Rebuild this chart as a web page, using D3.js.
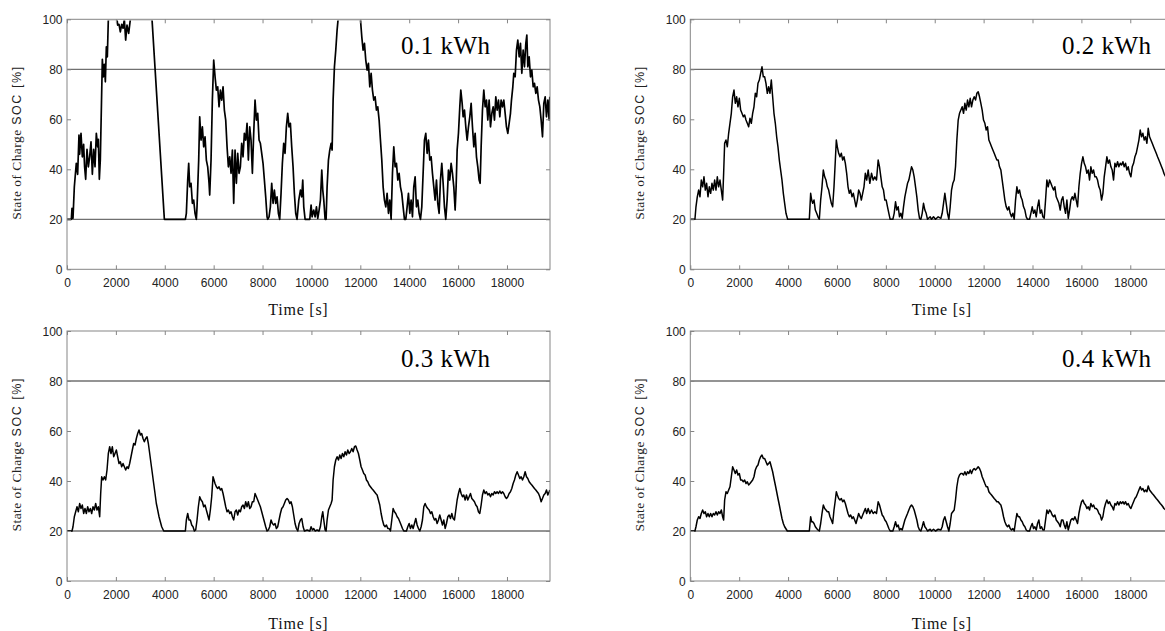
<!DOCTYPE html>
<html><head><meta charset="utf-8">
<script src="https://cdn.jsdelivr.net/npm/d3@7"></script>
<style>body{margin:0;background:#fff;} svg{display:block;}</style>
</head><body>
<svg id="chart" width="1165" height="631"></svg>
<script>
// ---------- data ----------
const timeTicks = [0,2000,4000,6000,8000,10000,12000,14000,16000,18000];
const socTicks = [0,20,40,60,80,100];
const socLimits = [20,80];
const capacityLabels = ["0.1 kWh","0.2 kWh","0.3 kWh","0.4 kWh"];
const xLabel = "Time [s]";
const yLabelSerif = "State of Charge";
const yLabelSans = "SOC [%]";

// [time s, SOC %]
const soc01 = [[0,20],[177,20],[205,24.4],[245,20.4],[300,33],[380,42.4],[436,38],[490,53.7],[518,46],[573,54.4],[627,45],[680,50],[720,41],[764,36],[818,48],[873,41],[927,45],[982,51],[1037,38],[1091,48],[1146,41],[1200,54.4],[1255,49],[1282,52],[1323,36],[1364,44],[1405,64],[1446,84],[1487,77],[1528,82],[1569,75],[1610,89],[1650,85],[1691,100],[2046,100],[2073,97.7],[2128,98],[2182,95],[2237,98],[2292,96.4],[2346,100],[2400,91.7],[2455,97.7],[2523,94.4],[2592,100],[3478,100],[3983,20],[4842,20],[4883,22.4],[4938,35.7],[4979,42.4],[5020,33],[5074,34.4],[5129,26.4],[5183,27.7],[5238,22.4],[5292,20],[5320,25],[5388,43.7],[5429,61],[5483,51.7],[5538,57],[5592,49],[5647,53],[5701,43.7],[5756,41],[5811,34.4],[5838,29.7],[5893,43.7],[5947,67.7],[6002,83.7],[6057,77],[6111,71.7],[6166,73],[6220,65],[6275,71.7],[6329,67.7],[6384,73],[6438,63.7],[6493,59.7],[6548,49],[6602,41],[6657,45],[6711,38.4],[6766,47.7],[6820,26.4],[6875,47.7],[6929,34.4],[6984,46.4],[7038,38.4],[7093,41],[7147,50.4],[7202,45],[7256,54.4],[7311,51.7],[7366,58.4],[7420,43.7],[7475,57],[7529,51.7],[7584,38.4],[7638,54.4],[7693,67.7],[7748,59.7],[7802,62.4],[7857,51.7],[7911,50.4],[7966,46.4],[8020,42.4],[8075,35.7],[8129,29],[8184,21],[8211,20],[8266,21],[8320,25],[8375,34.4],[8430,26.4],[8484,31.7],[8539,26.4],[8593,29],[8648,22.4],[8702,20],[8757,30.4],[8811,42.4],[8866,50.4],[8920,46.4],[8975,57],[9030,62.4],[9084,57],[9139,58.4],[9193,49],[9248,41],[9302,30.4],[9357,22.4],[9411,20],[9482,27.7],[9550,31.7],[9604,29],[9645,35.7],[9686,25],[9741,20],[9932,20],[9986,25.7],[10027,21],[10095,23.7],[10150,21],[10205,25],[10259,20.4],[10314,23.7],[10368,27.7],[10423,39.7],[10464,31.7],[10505,27.7],[10559,20],[10600,20],[10641,33],[10696,43.7],[10750,47.7],[10805,50.4],[10846,47.7],[10887,67.7],[10941,81],[10996,87.7],[11050,95.7],[11091,100],[12005,100],[12060,93],[12114,87.7],[12169,90.4],[12223,83.7],[12278,79.7],[12332,82.4],[12387,73],[12442,78.4],[12496,71.7],[12551,67.7],[12605,69],[12660,63.7],[12714,65],[12769,59.7],[12823,51.7],[12878,43.7],[12933,33],[12987,27.7],[13042,25],[13096,30.4],[13151,22.4],[13205,27.7],[13260,20],[13315,38.4],[13369,49],[13424,41],[13478,42.4],[13533,35.7],[13587,38.4],[13642,33],[13696,30.4],[13751,25],[13806,20],[13860,20],[13915,25],[13969,30.4],[14024,22.4],[14078,27.7],[14133,21],[14187,33],[14242,37],[14296,25],[14351,27.7],[14405,22.4],[14460,20],[14515,25],[14569,38.4],[14624,51.7],[14678,54.4],[14733,46.4],[14788,51.7],[14842,43.7],[14897,45],[14951,38.4],[15006,33],[15060,27.7],[15115,35.7],[15169,26.4],[15224,22.4],[15278,35.7],[15333,42.4],[15388,34.4],[15442,25],[15497,20],[15551,27.7],[15606,39.7],[15660,35.7],[15715,42.4],[15770,38.4],[15824,33],[15879,23.7],[15920,33],[15961,47.7],[16015,54.4],[16070,65],[16111,71.7],[16166,66.4],[16206,61],[16261,63.7],[16315,57],[16370,51.7],[16424,57],[16479,61],[16534,66.4],[16588,57],[16643,49],[16697,54.4],[16752,45],[16806,41],[16861,35.7],[16902,34.4],[16943,49],[16997,63.7],[17052,71.7],[17107,65],[17161,67.7],[17216,59.7],[17270,67.7],[17325,57],[17380,62.4],[17434,65],[17489,59.7],[17543,69],[17598,63.7],[17652,67.7],[17707,61],[17761,67.7],[17816,65],[17870,67.7],[17925,62.4],[17979,57],[18034,54.4],[18088,58.4],[18143,62.4],[18184,67.7],[18239,73],[18279,78.4],[18334,77],[18389,87.7],[18443,91.7],[18498,85],[18552,90.4],[18607,78.4],[18662,87.7],[18716,81],[18771,90.4],[18812,93.7],[18852,81],[18907,85],[18962,77],[19016,79.7],[19071,73],[19125,74.4],[19180,70.4],[19234,73],[19289,67.7],[19344,65],[19398,59.7],[19453,53],[19507,66.4],[19562,69],[19616,61],[19671,67.7],[19725,59.7],[19752,69]];

const soc02 = [[0,20],[190,20],[232,25],[286,29],[341,31.7],[396,29],[450,35.7],[505,33],[559,37],[614,31.7],[668,34.4],[723,29],[777,33],[832,30.4],[887,34.4],[941,31.7],[996,35.7],[1050,31.7],[1105,37],[1159,33],[1214,35.7],[1269,31.7],[1323,27.7],[1364,38.4],[1405,50.4],[1460,51.7],[1514,49],[1569,54.4],[1623,58.4],[1678,62.4],[1732,69],[1787,71.7],[1841,66.4],[1896,69],[1950,65],[2005,68.4],[2060,63.7],[2114,62.4],[2169,61],[2223,61.7],[2278,59.7],[2332,58.4],[2387,57],[2441,60.4],[2496,58.4],[2551,62.4],[2605,65],[2660,70.4],[2714,69],[2769,74.4],[2824,75.7],[2878,78.4],[2933,81],[2987,77],[3042,77],[3096,74.4],[3151,70.4],[3205,73],[3260,70.4],[3314,75.7],[3369,69],[3423,62.4],[3478,58.4],[3533,53],[3587,49],[3642,43.7],[3696,39.7],[3751,35.7],[3806,30.4],[3860,26.4],[3915,22.4],[3983,20],[4869,20],[4924,30.4],[4965,27.7],[5006,26.4],[5061,27.7],[5115,23.7],[5170,22.4],[5224,21],[5279,20],[5333,27.7],[5388,33],[5442,39.7],[5497,37],[5551,35.7],[5606,33],[5661,31.7],[5715,29],[5770,26.4],[5824,25],[5879,33],[5934,43.7],[5974,51.7],[6015,49],[6070,46.4],[6124,45],[6179,46.4],[6234,43.7],[6288,45],[6343,42.4],[6397,38.4],[6452,33],[6506,30.4],[6561,31.7],[6616,29],[6670,30.4],[6725,27.7],[6779,25],[6834,27.7],[6888,31.7],[6943,30.4],[6997,27.7],[7052,30.4],[7106,33],[7161,38.4],[7216,35.7],[7277,39.7],[7345,34.4],[7413,38.4],[7482,35.7],[7550,37],[7618,35.7],[7686,43.7],[7741,41],[7795,37],[7850,33],[7904,31.7],[7959,27.7],[8014,27.7],[8068,25],[8123,22.4],[8177,20],[8286,20],[8341,22.4],[8396,27],[8450,23.7],[8505,25],[8559,21],[8614,22.4],[8668,20.4],[8723,25],[8778,29],[8832,31.7],[8887,34.4],[8941,35.7],[8996,38.4],[9050,41],[9105,39.7],[9159,37],[9214,33],[9268,29],[9323,23.7],[9378,20.4],[9432,20],[9487,22.4],[9541,26.4],[9596,23.7],[9650,22.4],[9705,20],[9814,21],[9869,20],[9950,21],[10032,20],[10141,21],[10251,20.4],[10305,22.4],[10360,26.4],[10414,30.4],[10469,26.4],[10523,22.4],[10578,20],[10632,25],[10687,31.7],[10741,34.4],[10796,35.7],[10850,41],[10905,51.7],[10960,59.7],[11014,62.4],[11069,63.7],[11124,65],[11178,62.4],[11233,66.4],[11287,63.7],[11342,67.7],[11396,65],[11451,68.4],[11505,65],[11560,67.7],[11614,69],[11669,67.7],[11723,70.4],[11778,71],[11832,69],[11887,66.4],[11941,63.7],[11996,59.7],[12051,58.4],[12106,55.7],[12160,57],[12215,51.7],[12269,50.4],[12324,49],[12378,47.7],[12433,46.4],[12488,45],[12542,43.7],[12597,43.7],[12651,41],[12706,39.7],[12760,35.7],[12815,31.7],[12869,27.7],[12924,25],[12979,23.7],[13033,25],[13088,22.4],[13142,21],[13197,22.4],[13252,20],[13306,27.7],[13361,33],[13415,30.4],[13470,31.7],[13524,29],[13579,27.7],[13633,25],[13688,23.7],[13743,21],[13797,20],[13879,20],[13933,22.4],[13988,25],[14042,22.4],[14097,23.7],[14152,21],[14206,25],[14261,27.7],[14315,22.4],[14370,23.7],[14424,21],[14479,20.4],[14534,27.7],[14588,35.7],[14643,33],[14697,35.7],[14752,34.4],[14806,33],[14861,31.7],[14915,33],[14970,29],[15025,27.7],[15079,26.4],[15134,23.7],[15188,27.7],[15243,29],[15298,25],[15352,22.4],[15407,27.7],[15461,20.4],[15516,23.7],[15570,27.7],[15625,29],[15679,27.7],[15734,30.4],[15788,27.7],[15843,25],[15898,33],[15952,38.4],[16007,42.4],[16061,45],[16116,42.4],[16170,41],[16225,38.4],[16279,39.7],[16334,35.7],[16388,41],[16443,38.4],[16498,39.7],[16552,37],[16607,37],[16661,35.7],[16716,33],[16770,31.7],[16825,27.7],[16879,30.4],[16934,37],[16989,41],[17043,45],[17098,42.4],[17152,43.7],[17207,41],[17261,39.7],[17316,35.7],[17371,42.4],[17425,41],[17480,43],[17534,41],[17589,42.4],[17643,41.7],[17698,43],[17752,41],[17807,42.4],[17862,39.7],[17916,41],[17971,38.4],[18025,37],[18080,41],[18135,42.4],[18189,45],[18244,46.4],[18298,49],[18353,51.7],[18407,55.7],[18462,53],[18516,54.4],[18571,51.7],[18625,53],[18680,50.4],[18734,56.4],[18789,53],[18843,51.7],[18898,50.4],[18953,49],[19007,47.7],[19062,46.4],[19116,45],[19171,43.7],[19225,42.4],[19280,41],[19334,39.7],[19376,38.4],[19450,37]];

const soc03 = [[0,20],[205,20],[245,21.7],[300,25.7],[355,27.7],[409,29.7],[464,27.7],[518,31],[573,29],[627,30.4],[682,27],[736,29],[791,27],[846,29.7],[900,27.7],[955,29],[1009,27],[1064,29.7],[1118,28.4],[1173,31],[1228,28.4],[1282,29.7],[1337,25.7],[1378,35],[1419,41.7],[1473,40.4],[1528,41.7],[1582,40.4],[1637,44.4],[1691,51],[1746,53.7],[1800,51],[1855,53.7],[1910,49.7],[1964,51],[2019,52.4],[2073,49.7],[2128,47],[2182,47.7],[2237,45.7],[2292,47],[2346,45.7],[2401,44.4],[2455,45.7],[2510,45],[2564,47],[2619,49.7],[2673,52.4],[2728,55],[2783,54.4],[2837,57],[2892,59],[2946,60.4],[3001,58.4],[3055,59],[3110,57],[3164,55.7],[3219,57],[3274,57.7],[3328,55],[3383,51],[3437,47],[3492,43],[3546,39],[3601,35],[3655,31],[3710,28.4],[3765,25.7],[3819,23.7],[3874,21.7],[3956,20],[4842,20],[4883,24.4],[4938,27],[4992,24.4],[5047,24.4],[5102,22.4],[5156,21.7],[5211,20],[5265,20.4],[5320,24.4],[5374,29.7],[5429,33.7],[5483,32.4],[5538,31.7],[5592,29.7],[5647,30.4],[5701,28.4],[5756,26.4],[5811,24.4],[5865,28.4],[5920,33.7],[5974,41.7],[6015,40.4],[6056,39],[6111,37.7],[6165,37],[6220,37.7],[6274,36.4],[6329,37],[6384,35],[6438,32.4],[6493,29.7],[6548,27.7],[6602,28.4],[6657,27],[6711,27.7],[6766,25.7],[6820,24.4],[6875,27.7],[6929,28.4],[6984,26.4],[7038,28.4],[7093,27.7],[7147,29.7],[7202,30.4],[7256,29],[7311,31.7],[7366,29.7],[7420,31.7],[7475,29],[7529,29.7],[7584,31.7],[7638,31.7],[7693,35],[7748,33.7],[7802,32.4],[7857,31],[7911,29.7],[7966,27.7],[8020,25.7],[8075,23.7],[8129,21.7],[8184,20],[8239,20.4],[8293,21.7],[8348,24.4],[8402,23],[8457,22.4],[8511,23],[8566,21],[8620,21.7],[8675,24.4],[8730,27],[8784,29],[8839,29.7],[8893,31],[8948,32.4],[9004,33],[9057,32.4],[9113,31],[9166,31.7],[9221,29.7],[9275,26.4],[9330,23],[9386,21],[9441,20],[9495,23],[9550,24.4],[9604,25],[9659,21.7],[9714,20],[9823,20.4],[9932,20],[9986,21.7],[10041,20.4],[10095,21],[10150,20],[10232,20.4],[10314,20],[10368,21.7],[10423,25.7],[10464,27.7],[10505,24.4],[10559,20.4],[10600,20],[10641,24.4],[10696,28.4],[10750,29.7],[10805,31],[10846,32.4],[10887,40.4],[10941,45.7],[10996,48.4],[11050,49.7],[11105,48.4],[11160,50.4],[11214,49],[11269,51],[11323,49.7],[11378,51.7],[11432,50.4],[11487,52.4],[11541,51],[11596,51.7],[11650,53],[11705,51.7],[11760,53.7],[11814,54],[11869,52.4],[11923,51],[11978,48.4],[12032,45.7],[12087,44.4],[12141,43],[12196,42.4],[12251,40.4],[12305,39.7],[12360,38.4],[12414,37.7],[12469,37],[12523,36.4],[12578,35.7],[12633,35],[12687,34.4],[12742,32.4],[12796,30.4],[12851,27],[12905,24.4],[12960,22.4],[13014,21.7],[13069,22.4],[13124,21],[13178,21],[13233,20],[13287,24.4],[13342,29],[13397,27.7],[13451,27],[13506,25.7],[13560,25],[13615,23.7],[13669,22.4],[13724,21],[13778,20],[13888,20],[13942,21.7],[13997,23],[14051,21],[14106,22.4],[14160,21],[14215,23],[14269,25],[14324,22.4],[14378,21],[14433,20],[14488,21.7],[14542,24.4],[14597,29.7],[14651,31],[14706,29.7],[14760,29],[14815,28.4],[14870,27],[14924,27.7],[14979,25.7],[15033,24.4],[15088,25],[15142,23],[15197,24.4],[15251,26.4],[15306,24.4],[15361,22.4],[15415,24.4],[15470,21],[15524,23],[15579,25.7],[15633,26.4],[15688,25],[15743,27],[15797,25],[15852,24.4],[15906,28.4],[15961,32.4],[16015,35],[16070,37],[16124,35],[16179,33.7],[16233,34.4],[16288,32.4],[16342,34.4],[16397,32.4],[16452,33.7],[16506,35],[16561,33],[16615,32.4],[16670,31.7],[16724,30.4],[16779,29.7],[16833,27.7],[16888,27],[16943,30.4],[16997,34.4],[17052,36.4],[17106,35],[17161,35.7],[17216,34.4],[17270,35],[17325,33.7],[17379,35],[17434,34.4],[17488,35.7],[17543,35],[17597,35.7],[17652,35],[17707,36],[17761,35],[17816,35.7],[17870,35],[17925,33.7],[17979,33],[18034,33.7],[18088,35],[18143,35.7],[18197,37],[18252,39],[18306,40.4],[18361,42.4],[18416,43.7],[18470,42.4],[18525,41],[18579,41.7],[18634,40.4],[18689,41.7],[18743,43.7],[18798,41.7],[18852,41],[18907,39.7],[18962,39],[19016,38.4],[19071,37.7],[19125,37],[19180,36.4],[19234,35.7],[19289,35],[19343,33.7],[19398,31.7],[19452,33],[19507,34.4],[19562,35],[19616,36.4],[19671,34.4],[19725,35.7],[19752,36.4]];

const soc04 = [[0,20],[190,20],[232,21.7],[286,24.4],[341,25.7],[396,25],[450,27],[505,28.4],[559,27],[614,27.7],[668,25.7],[723,27],[777,25.7],[832,27],[887,25.7],[941,27],[996,26.4],[1050,27.7],[1105,26.4],[1159,27.7],[1214,27],[1269,28.4],[1323,25.7],[1364,24.4],[1405,32.4],[1460,35.7],[1514,35],[1569,36.4],[1623,37.7],[1678,41.7],[1732,45.7],[1787,44.4],[1841,43],[1896,44.4],[1950,42.4],[2005,43],[2060,40.4],[2114,40.4],[2169,39.7],[2223,40.4],[2278,39],[2332,39.7],[2387,38.4],[2441,39],[2496,39.7],[2551,40.4],[2605,41.7],[2660,44.4],[2714,45.7],[2769,46.4],[2824,48.4],[2878,49.7],[2933,50.4],[2987,49],[3042,49],[3096,47.7],[3151,46.4],[3205,47],[3260,47.7],[3314,45.7],[3369,43.7],[3423,41],[3478,38.4],[3533,35.7],[3587,33],[3642,30.4],[3696,27.7],[3751,25],[3806,23],[3860,21.7],[3969,20],[4869,20],[4924,25.7],[4965,23.7],[5006,23.7],[5061,23],[5115,21.7],[5170,21],[5224,20.4],[5279,20],[5333,23],[5388,27],[5442,30.4],[5497,29],[5551,28.4],[5606,27.7],[5661,27.7],[5715,25.7],[5770,24.4],[5824,23],[5879,28.4],[5934,32.4],[5974,35.7],[6015,34.4],[6070,33],[6124,32.4],[6179,33],[6234,31.7],[6288,32.4],[6343,31],[6397,29],[6452,27],[6506,25.7],[6561,26.4],[6616,25],[6670,25.7],[6725,24.4],[6779,23],[6834,25],[6888,27],[6943,25.7],[6997,25],[7052,26.4],[7106,27.7],[7161,29],[7216,27],[7277,29],[7345,27],[7413,28.4],[7482,27],[7550,27.7],[7618,27],[7686,31.7],[7741,30.4],[7795,28.4],[7850,26.4],[7904,25.7],[7959,24.4],[8014,23.7],[8068,22.4],[8123,21],[8177,20],[8286,20],[8341,21.7],[8396,23.7],[8450,21.7],[8505,22.4],[8559,20.4],[8614,21],[8668,20.4],[8723,22.4],[8778,24.4],[8832,25.7],[8887,27],[8941,28.4],[8996,29.7],[9050,30.4],[9105,29.7],[9159,28.4],[9214,26.4],[9268,24.4],[9323,21.7],[9378,20.4],[9432,20],[9487,21.7],[9541,23.7],[9596,21.7],[9650,21],[9705,20],[9814,20.7],[9869,20],[9950,20.7],[10032,20],[10141,20.7],[10251,20.4],[10305,21.7],[10360,24.4],[10414,25.7],[10469,23.7],[10523,21.7],[10578,20],[10632,23],[10687,27],[10741,27.7],[10796,28.4],[10850,32.4],[10905,37.7],[10960,41],[11014,42.4],[11069,43],[11124,43],[11178,42.4],[11233,43.7],[11287,42.4],[11342,43.7],[11396,43],[11451,44.4],[11505,43],[11560,44.4],[11614,45],[11669,44.4],[11723,45],[11778,45.7],[11832,45],[11887,43.7],[11941,41.7],[11996,40.4],[12051,39],[12106,37.7],[12160,37.7],[12215,35.7],[12269,35],[12324,34.4],[12378,33.7],[12433,33],[12488,32.4],[12542,31.7],[12597,31.7],[12651,31],[12706,30.4],[12760,28.4],[12815,25.7],[12869,23.7],[12924,22.4],[12979,21.7],[13033,22.4],[13088,21],[13142,20.4],[13197,21],[13252,20],[13306,23.7],[13361,27],[13415,25.7],[13470,25.7],[13524,24.4],[13579,23.7],[13633,22.4],[13688,21.7],[13743,20.4],[13797,20],[13879,20],[13933,21.7],[13988,23],[14042,21],[14097,21.7],[14152,20.4],[14206,23],[14261,24.4],[14315,21],[14370,21.7],[14424,20.4],[14479,20.4],[14534,24.4],[14588,28.4],[14643,27],[14697,28.4],[14752,27.7],[14806,26.4],[14861,25.7],[14915,26.4],[14970,24.4],[15025,23.7],[15079,23],[15134,21.7],[15188,24.4],[15243,24.4],[15298,22.4],[15352,21],[15407,23.7],[15461,20.4],[15516,22.4],[15570,24.4],[15625,25],[15679,24.4],[15734,25.7],[15788,24.4],[15843,23],[15898,27],[15952,29.7],[16007,31.7],[16061,32.4],[16116,31],[16170,30.4],[16225,29],[16279,29.7],[16334,28.4],[16388,31],[16443,29.7],[16498,30.4],[16552,29],[16607,29],[16661,28.4],[16716,27],[16770,26.4],[16825,24.4],[16879,25.7],[16934,29],[16989,31],[17043,32.4],[17098,31],[17152,31.7],[17207,30.4],[17261,29.7],[17316,28.4],[17371,31],[17425,30.4],[17480,31.7],[17534,30.4],[17589,31.7],[17643,31],[17698,31.7],[17752,30.8],[17807,31.7],[17862,30.4],[17916,31],[17971,29.7],[18025,29],[18080,30.4],[18135,31.7],[18189,33],[18244,33.7],[18298,35],[18353,36.4],[18407,37.7],[18462,36.4],[18516,37],[18571,35.7],[18625,36.4],[18680,35.7],[18734,38],[18789,36.4],[18843,35.7],[18898,35],[18953,34.4],[19007,33.7],[19062,33],[19116,32.4],[19171,31.7],[19225,31],[19280,30.4],[19334,29.7],[19376,29],[19450,28.4]];

const series = [soc01, soc02, soc03, soc04];

// ---------- layout ----------
const W = 483, H = 250;
const TMAX = 19760;
const layout = [
  {left: 67,    top: 19.3, ylabX: 20.5, xlabX: 268.3, xlabY: 315,   capX: 401,  capY: 54},
  {left: 690.3, top: 19.3, ylabX: 644,  xlabX: 911.7, xlabY: 315,   capX: 1062, capY: 54},
  {left: 67,    top: 331,  ylabX: 20.5, xlabX: 268.3, xlabY: 628.5, capX: 401,  capY: 366.5},
  {left: 690.3, top: 331,  ylabX: 644,  xlabX: 911.7, xlabY: 628.5, capX: 1062, capY: 366.5}
];

const svg = d3.select("#chart");
svg.append("rect").attr("width",1165).attr("height",631).attr("fill","#fff");

const SANS = "Liberation Sans, Arial, sans-serif";
const SERIF = "Liberation Serif, Times New Roman, Times, serif";
const GRAY = "#858585";

layout.forEach((L, i) => {
  const x = d3.scaleLinear().domain([0, TMAX]).range([0, W]);
  const y = d3.scaleLinear().domain([0, 100]).range([H, 0]);
  const g = svg.append("g").attr("transform", `translate(${L.left},${L.top})`);

  g.selectAll("line.lim").data(socLimits).enter().append("line")
    .attr("x1", 0).attr("x2", W)
    .attr("y1", d => y(d)).attr("y2", d => y(d))
    .attr("stroke", "#707070").attr("stroke-width", 1.3);

  const cid = "clip" + i;
  g.append("clipPath").attr("id", cid).append("rect")
    .attr("x", 0).attr("y", 1.2).attr("width", W).attr("height", H - 1.2);

  const line = d3.line().x(d => x(d[0])).y(d => y(d[1]));
  g.append("path").datum(series[i])
    .attr("clip-path", `url(#${cid})`)
    .attr("d", line).attr("fill", "none")
    .attr("stroke", "#000").attr("stroke-width", i === 0 ? 1.7 : 1.5)
    .attr("stroke-linejoin", "round");

  const ax = (axis, tr) => {
    const a = g.append("g").attr("transform", tr).call(axis);
    a.select(".domain").remove();
    a.selectAll(".tick line").attr("stroke", GRAY);
    return a;
  };
  const xb = ax(d3.axisBottom(x).tickValues(timeTicks).tickSize(-4).tickFormat(d3.format("d")), `translate(0,${H})`);
  xb.selectAll("text").attr("y", 18).attr("dy", null)
    .attr("font-family", SANS).attr("font-size", 12).attr("fill", "#222");
  ax(d3.axisTop(x).tickValues(timeTicks).tickSize(-4).tickFormat(""), "translate(0,0)");
  const yl = ax(d3.axisLeft(y).tickValues(socTicks).tickSize(-4).tickFormat(d3.format("d")), "translate(0,0)");
  yl.selectAll("text").attr("x", -4.5).attr("dy", "0.36em")
    .attr("font-family", SANS).attr("font-size", 12).attr("fill", "#222");
  ax(d3.axisRight(y).tickValues(socTicks).tickSize(-4).tickFormat(""), `translate(${W},0)`);

  g.append("rect").attr("x", 0).attr("y", 0).attr("width", W).attr("height", H)
    .attr("fill", "none").attr("stroke", GRAY).attr("stroke-width", 1);

  svg.append("text").attr("x", L.capX).attr("y", L.capY)
    .attr("font-family", SERIF).attr("font-size", 25).attr("fill", "#000")
    .attr("textLength", 89).attr("lengthAdjust", "spacing")
    .text(capacityLabels[i]);

  svg.append("text").attr("x", L.xlabX).attr("y", L.xlabY)
    .attr("font-family", SERIF).attr("font-size", 16).attr("fill", "#111")
    .attr("textLength", 59.4).attr("lengthAdjust", "spacing")
    .text(xLabel);

  const yc = L.top + H / 2 - 1;
  const gy = svg.append("g").attr("transform", `translate(${L.ylabX},${yc}) rotate(-90)`);
  gy.append("text").attr("x", -76.5).attr("y", 0)
    .attr("font-family", SERIF).attr("font-size", 13.5).attr("fill", "#222")
    .attr("textLength", 90).attr("lengthAdjust", "spacing")
    .text(yLabelSerif);
  gy.append("text").attr("x", 18.5).attr("y", 0)
    .attr("font-family", SANS).attr("font-size", 12.5).attr("fill", "#222")
    .attr("textLength", 58).attr("lengthAdjust", "spacing")
    .text(yLabelSans);
});
</script>
</body></html>
